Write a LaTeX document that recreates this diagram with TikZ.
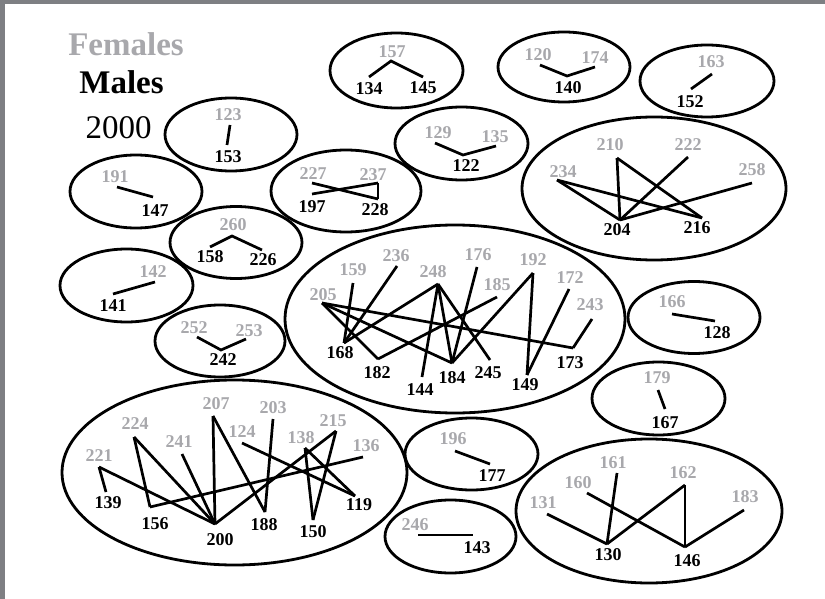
\documentclass[tikz,border=0pt]{standalone}
\usepackage{fontspec}
\setmainfont{Liberation Serif}
\usetikzlibrary{shapes.geometric}
\definecolor{fgray}{RGB}{168,168,172}
\definecolor{framegray}{RGB}{126,127,131}
\tikzset{
  ell/.style={draw, ellipse, line width=2.8pt, inner sep=0pt},
  femtext/.style={text=fgray, font=\bfseries\fontsize{18}{18}\selectfont, inner sep=0pt},
  maltext/.style={text=black, font=\bfseries\fontsize{18}{18}\selectfont, inner sep=0pt},
  tie/.style={line width=2.7pt},
  legend/.style={inner sep=0pt, font=\fontsize{33}{33}\selectfont}
}
\newcommand\FemN[3]{\node[femtext] (t#1) at (#2) {#1}; \coordinate (p#1) at (#3);}
\newcommand\MalN[3]{\node[maltext] (t#1) at (#2) {#1}; \coordinate (p#1) at (#3);}
\begin{document}
\begin{tikzpicture}[x=1pt,y=-1pt]
\useasboundingbox (0,0) rectangle (825,599);
\fill[white] (0,0) rectangle (825,599);
\fill[framegray] (0,0) rectangle (825,4);
\fill[framegray] (0,0) rectangle (5,599);

% legend
\node[legend, text=fgray, font=\bfseries\fontsize{33}{33}\selectfont] (lfem) at (126,44) {Females};
\node[legend, font=\bfseries\fontsize{33}{33}\selectfont] (lmal) at (121.5,82) {Males};
\node[legend] (lyear) at (118.5,128) {2000};

% ellipses
\node[ell, minimum width=132pt, minimum height=73pt] (e1) at (231,134.5) {};
\node[ell, minimum width=132pt, minimum height=73pt] (e2) at (136,191.5) {};
\node[ell, minimum width=132pt, minimum height=72pt] (e3) at (236,242.5) {};
\node[ell, minimum width=133pt, minimum height=73pt] (e4) at (126.5,285.5) {};
\node[ell, minimum width=130pt, minimum height=72pt] (e5) at (220,341) {};
\node[ell, minimum width=133pt, minimum height=75pt] (e6) at (396.5,70.5) {};
\node[ell, minimum width=133pt, minimum height=73pt] (e7) at (461.5,143.5) {};
\node[ell, minimum width=150pt, minimum height=82pt] (e8) at (346,191) {};
\node[ell, minimum width=132pt, minimum height=70pt] (e9) at (564,67) {};
\node[ell, minimum width=134pt, minimum height=72pt] (e10) at (707,81) {};
\node[ell, minimum width=264pt, minimum height=143pt] (e11) at (654,188.5) {};
\node[ell, minimum width=340pt, minimum height=188pt] (e12) at (455,319) {};
\node[ell, minimum width=132pt, minimum height=72pt] (e13) at (694,317.5) {};
\node[ell, minimum width=133pt, minimum height=73pt] (e14) at (658.5,398.5) {};
\node[ell, minimum width=345pt, minimum height=185pt] (e15) at (234.5,472.5) {};
\node[ell, minimum width=133pt, minimum height=72pt] (e16) at (471.5,454) {};
\node[ell, minimum width=131pt, minimum height=73pt] (e17) at (450.5,536.5) {};
\node[ell, minimum width=266pt, minimum height=144pt] (e18) at (649,511) {};

% group 1
\FemN{123}{228,115}{230,125}
\MalN{153}{228,157}{227,145}
\draw[tie] (p123) -- (p153);
% group 2
\FemN{191}{115,177}{117,187}
\MalN{147}{155,211}{153,197}
\draw[tie] (p191) -- (p147);
% group 3
\FemN{260}{233,225}{232,236}
\MalN{158}{210,257}{210,247}
\MalN{226}{263,260}{262,250}
\draw[tie] (p158) -- (p260) -- (p226);
% group 4
\FemN{142}{153,272}{155,282}
\MalN{141}{113,306}{113,294}
\draw[tie] (p142) -- (p141);
% group 5
\FemN{252}{194,328}{197,337}
\FemN{253}{249,331}{246,339}
\MalN{242}{223,360}{221,350}
\draw[tie] (p252) -- (p242) -- (p253);
% group 6
\FemN{157}{392,52}{391,61}
\MalN{134}{369,89}{369,77}
\MalN{145}{423,88}{423,77}
\draw[tie] (p134) -- (p157) -- (p145);
% group 7
\FemN{129}{438,133}{435,143}
\FemN{135}{495,137}{496,146}
\MalN{122}{466,166}{463,155}
\draw[tie] (p129) -- (p122) -- (p135);
% group 8
\FemN{227}{313,174}{312,183}
\FemN{237}{373,175}{378,183}
\MalN{197}{312,207}{312,194}
\MalN{228}{375,210}{378,199}
\draw[tie] (p227) -- (p228);
\draw[tie] (p197) -- (p237);
\draw[tie] (p237) -- (p228);
% group 9
\FemN{120}{538,55}{540,65}
\FemN{174}{595,58}{595,67}
\MalN{140}{568,88}{567,76}
\draw[tie] (p120) -- (p140) -- (p174);
% group 10
\FemN{163}{711,62}{712,74}
\MalN{152}{690,102}{691,89}
\draw[tie] (p163) -- (p152);
% group 11
\FemN{210}{610,145}{617,158}
\FemN{222}{688,145}{688,157}
\FemN{234}{563,172}{557,180}
\FemN{258}{752,170}{752,183}
\MalN{204}{617,230}{620,220}
\MalN{216}{697,228}{702,218}
\draw[tie] (p210) -- (p204);
\draw[tie] (p210) -- (p216);
\draw[tie] (p222) -- (p204);
\draw[tie] (p234) -- (p204);
\draw[tie] (p234) -- (p216);
\draw[tie] (p258) -- (p204);
% group 12 (central)
\FemN{159}{353,270}{353,283}
\FemN{236}{396,256}{397,266}
\FemN{248}{433,272}{438,284}
\FemN{176}{478,255}{477,267}
\FemN{185}{497,285}{497,297}
\FemN{192}{533,260}{533,273}
\FemN{172}{570,278}{569,289}
\FemN{243}{590,305}{592,319}
\FemN{205}{323,295}{322,303}
\MalN{168}{340,353}{344,343}
\MalN{182}{377,373}{378,359}
\MalN{144}{420,390}{422,377}
\MalN{184}{452,378}{452,363}
\MalN{245}{488,373}{490,360}
\MalN{149}{525,385}{527,375}
\MalN{173}{570,363}{573,348}
\draw[tie] (p159) -- (p168);
\draw[tie] (p236) -- (p168);
\draw[tie] (p248) -- (p168);
\draw[tie] (p205) -- (p182);
\draw[tie] (p205) -- (p184);
\draw[tie] (p205) -- (p173);
\draw[tie] (p182) -- (p185);
\draw[tie] (p248) -- (p144);
\draw[tie] (p248) -- (p184);
\draw[tie] (p248) -- (p245);
\draw[tie] (p176) -- (p184);
\draw[tie] (p192) -- (p184);
\draw[tie] (p192) -- (p149);
\draw[tie] (p172) -- (p149);
\draw[tie] (p243) -- (p173);
% group 13
\FemN{166}{672,302}{672,314}
\MalN{128}{717,333}{715,321}
\draw[tie] (p166) -- (p128);
% group 14
\FemN{179}{657,378}{658,390}
\MalN{167}{665,423}{665,409}
\draw[tie] (p179) -- (p167);
% group 15 (bottom left)
\FemN{221}{99,456}{99,467}
\FemN{224}{135,424}{134,437}
\FemN{241}{179,442}{182,454}
\FemN{207}{216,404}{213,416}
\FemN{124}{242,432}{242,443}
\FemN{203}{273,408}{273,419}
\FemN{138}{301,438}{305,448}
\FemN{215}{333,421}{336,431}
\FemN{136}{366,446}{363,457}
\MalN{139}{108,503}{106,492}
\MalN{156}{155,524}{150,507}
\MalN{200}{220,540}{215,524}
\MalN{188}{264,525}{265,512}
\MalN{150}{313,532}{313,520}
\MalN{119}{359,505}{355,496}
\draw[tie] (p221) -- (p139);
\draw[tie] (p221) -- (p200);
\draw[tie] (p224) -- (p156);
\draw[tie] (p224) -- (p200);
\draw[tie] (p156) -- (p136);
\draw[tie] (p241) -- (p200);
\draw[tie] (p207) -- (p200);
\draw[tie] (p207) -- (p188);
\draw[tie] (p203) -- (p188);
\draw[tie] (p200) -- (p215);
\draw[tie] (p124) -- (p119);
\draw[tie] (p138) -- (p150);
\draw[tie] (p138) -- (p119);
\draw[tie] (p215) -- (p150);
% group 16
\FemN{196}{453,439}{455,451}
\MalN{177}{492,476}{490,464}
\draw[tie] (p196) -- (p177);
% group 17
\FemN{246}{415,525}{418,535}
\MalN{143}{477,548}{473,535}
\draw[tie] (p246) -- (p143);
% group 18
\FemN{131}{543,503}{547,514}
\FemN{160}{578,483}{587,493}
\FemN{161}{613,463}{617,473}
\FemN{162}{683,473}{685,485}
\FemN{183}{745,497}{744,510}
\MalN{130}{608,555}{607,544}
\MalN{146}{687,561}{685,547}
\draw[tie] (p131) -- (p130);
\draw[tie] (p161) -- (p130);
\draw[tie] (p162) -- (p130);
\draw[tie] (p160) -- (p146);
\draw[tie] (p162) -- (p146);
\draw[tie] (p183) -- (p146);
\end{tikzpicture}
\end{document}
